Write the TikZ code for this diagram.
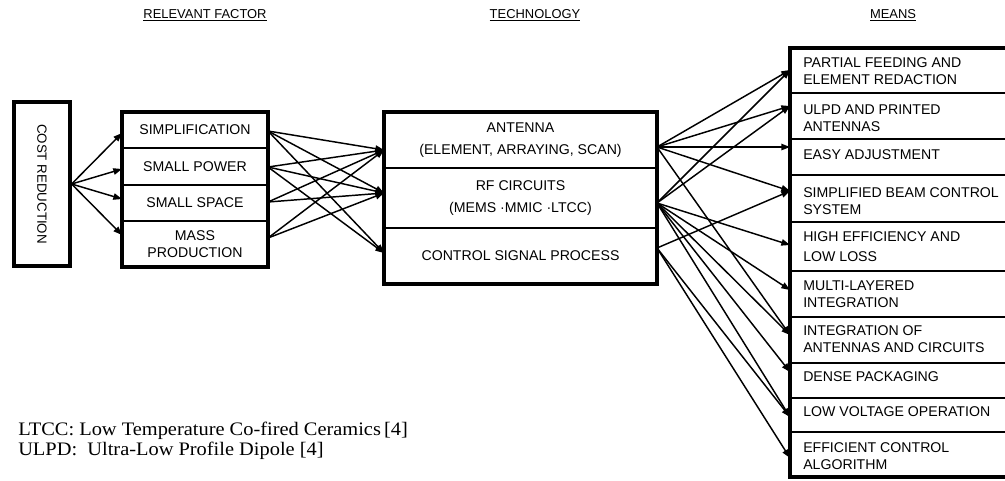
\documentclass[tikz,border=0pt]{standalone}
\usepackage{fontspec}
\usepackage{graphicx}
\setmainfont{Liberation Sans}
\newfontfamily\notefont[FakeStretch=1.07]{Liberation Serif}
\usetikzlibrary{arrows.meta,calc}

\begin{document}
\begin{tikzpicture}[x=0.75pt,y=-0.75pt,
  frame/.style={draw, line width=2.4pt},
  cell/.style={draw, line width=0.9pt, inner sep=0pt, outer sep=0pt, align=center,
    font=\fontsize{10.6}{13}\selectfont},
  mrow/.style={draw, line width=0.9pt, inner sep=0pt, outer sep=0pt,
    minimum width=165pt},
  mtext/.style={anchor=west, inner sep=0pt, align=left,
    font=\fontsize{10.6}{12.8}\selectfont},
  head/.style={font=\fontsize{9.7}{11}\selectfont, inner sep=0pt},
  note/.style={anchor=base west, inner sep=0pt, font=\notefont\fontsize{14.3}{16}\selectfont},
  link/.style={line width=1.1pt, -{Triangle[length=6.5pt,width=4.8pt]}}
]
\useasboundingbox (0,0) rectangle (1005,480);

% column headings
\node[head] (h1) at (205,15) {\underline{RELEVANT FACTOR}};
\node[head] (h2) at (535,15) {\underline{TECHNOLOGY}};
\node[head] (h3) at (893,15) {\underline{MEANS}};

% goal
\node[frame, minimum width=42pt, minimum height=123pt, inner sep=0pt,
  font=\fontsize{10}{12}\selectfont] (cost) at (42,184) {\rotatebox{-90}{COST REDUCTION}};

% relevant factors
\node[cell, minimum width=109.5pt, minimum height=27pt]   (f1) at (195,130)   {SIMPLIFICATION};
\node[cell, minimum width=109.5pt, minimum height=27.75pt] (f2) at (195,166.5) {SMALL POWER};
\node[cell, minimum width=109.5pt, minimum height=27pt]   (f3) at (195,203)   {SMALL SPACE};
\node[cell, minimum width=109.5pt, minimum height=34.5pt]  (f4) at (195,244)   {MASS\\PRODUCTION};
\draw[frame] (f1.north west) rectangle (f4.south east);

% technologies
\node[cell, minimum width=204.75pt, minimum height=42pt, font=\fontsize{10.6}{16.5}\selectfont]
  (ant) at (520.5,140) {ANTENNA\\(ELEMENT, ARRAYING, SCAN)};
\node[cell, minimum width=204.75pt, minimum height=45pt, font=\fontsize{10.6}{16.5}\selectfont]
  (rf) at (520.5,198) {RF CIRCUITS\\(MEMS ·MMIC ·LTCC)};
\node[cell, minimum width=204.75pt, minimum height=42pt]
  (ctl) at (520.5,256) {CONTROL SIGNAL PROCESS};
\draw[frame] (ant.north west) rectangle (ctl.south east);

% means (the column runs on past the right edge)
\node[mrow, minimum height=33.75pt] (m1)  at (900,70.5)  {};
\node[mrow, minimum height=34.5pt]  (m2)  at (900,116)   {};
\node[mrow, minimum height=27pt]    (m3)  at (900,157)   {};
\node[mrow, minimum height=35.25pt] (m4)  at (900,198.5) {};
\node[mrow, minimum height=36.75pt] (m5)  at (900,246.5) {};
\node[mrow, minimum height=34.5pt]  (m6)  at (900,294)   {};
\node[mrow, minimum height=34.5pt]  (m7)  at (900,340)   {};
\node[mrow, minimum height=26.25pt] (m8)  at (900,380.5) {};
\node[mrow, minimum height=25.5pt]  (m9)  at (900,415)   {};
\node[mrow, minimum height=33.75pt] (m10) at (900,454.5) {};
\draw[frame] (m1.north west) rectangle (m10.south east);

\node[mtext] (t1)  at ($(m1.west)+(13,1)$)   {PARTIAL FEEDING AND\\ELEMENT REDACTION};
\node[mtext] (t2)  at ($(m2.west)+(13,2)$)   {ULPD AND PRINTED\\ANTENNAS};
\node[mtext] (t3)  at ($(m3.west)+(13,-2)$)  {EASY ADJUSTMENT};
\node[mtext] (t4)  at ($(m4.west)+(13,3)$)   {SIMPLIFIED BEAM CONTROL\\SYSTEM};
\node[mtext, font=\fontsize{10.6}{15}\selectfont]
             (t5)  at ($(m5.west)+(13,0.5)$) {HIGH EFFICIENCY AND\\LOW LOSS};
\node[mtext] (t6)  at ($(m6.west)+(13,0.5)$) {MULTI-LAYERED\\INTEGRATION};
\node[mtext] (t7)  at ($(m7.west)+(13,-1)$)  {INTEGRATION OF\\ANTENNAS AND CIRCUITS};
\node[mtext] (t8)  at ($(m8.west)+(13,-3.5)$){DENSE PACKAGING};
\node[mtext] (t9)  at ($(m9.west)+(13,-3)$)  {LOW VOLTAGE OPERATION};
\node[mtext] (t10) at ($(m10.west)+(13,1.5)$){EFFICIENT CONTROL\\ALGORITHM};

% footnotes
\node[note] (n1) at (18,435) {LTCC: Low Temperature Co-fired Ceramics\,[4]};
\node[note] (n2) at (18,455) {ULPD:\ \ Ultra-Low Profile Dipole [4]};

% ports on the boxes
\coordinate (cOut) at (cost.east);
\coordinate (f1in) at ($(f1.west)+(0,3)$);
\coordinate (f2in) at ($(f2.west)+(0,2.5)$);
\coordinate (f3in) at ($(f3.west)+(0,-4)$);
\coordinate (f4in) at ($(f4.west)+(0,-9)$);
\coordinate (f1out) at ($(f1.east)+(0,1)$);
\coordinate (f2out) at ($(f2.east)+(0,0.5)$);
\coordinate (f3out) at ($(f3.east)+(0,-1)$);
\coordinate (f4out) at ($(f4.east)+(0,-6)$);
\coordinate (antIn) at ($(ant.west)+(0,10)$);
\coordinate (rfIn)  at ($(rf.west)+(0,-5)$);
\coordinate (ctlIn) at ($(ctl.west)+(0,-3)$);
\coordinate (antOut) at ($(ant.east)+(0,7)$);
\coordinate (rfOut)  at ($(rf.east)+(0,5)$);
\coordinate (ctlOut) at ($(ctl.east)+(0,-8)$);
\coordinate (m1in)  at ($(m1.west)+(0,-0.5)$);
\coordinate (m2in)  at ($(m2.west)+(0,-10)$);
\coordinate (m3in)  at ($(m3.west)+(0,-10)$);
\coordinate (m4in)  at ($(m4.west)+(0,-7.5)$);
\coordinate (m5in)  at ($(m5.west)+(0,-1.5)$);
\coordinate (m6in)  at ($(m6.west)+(0,-4)$);
\coordinate (m7in)  at ($(m7.west)+(0,-5)$);
\coordinate (m8in)  at ($(m8.west)+(0,-8.5)$);
\coordinate (m9in)  at ($(m9.west)+(0,2)$);
\coordinate (m10in) at ($(m10.west)+(0,3.5)$);

% goal -> factors
\foreach \t in {f1in,f2in,f3in,f4in} \draw[link] (cOut) -- (\t);

% factors -> technologies
\foreach \s/\t in {f1out/antIn, f1out/rfIn, f1out/ctlIn,
                   f2out/antIn, f2out/rfIn, f2out/ctlIn,
                   f3out/antIn, f3out/rfIn,
                   f4out/antIn, f4out/rfIn}
  \draw[link] (\s) -- (\t);

% technologies -> means
\foreach \s/\t in {antOut/m1in, antOut/m2in, antOut/m3in, antOut/m4in, antOut/m7in,
                   rfOut/m1in, rfOut/m2in, rfOut/m5in, rfOut/m6in, rfOut/m7in,
                   rfOut/m8in, rfOut/m9in,
                   ctlOut/m4in, ctlOut/m9in, ctlOut/m10in}
  \draw[link] (\s) -- (\t);
\end{tikzpicture}
\end{document}
